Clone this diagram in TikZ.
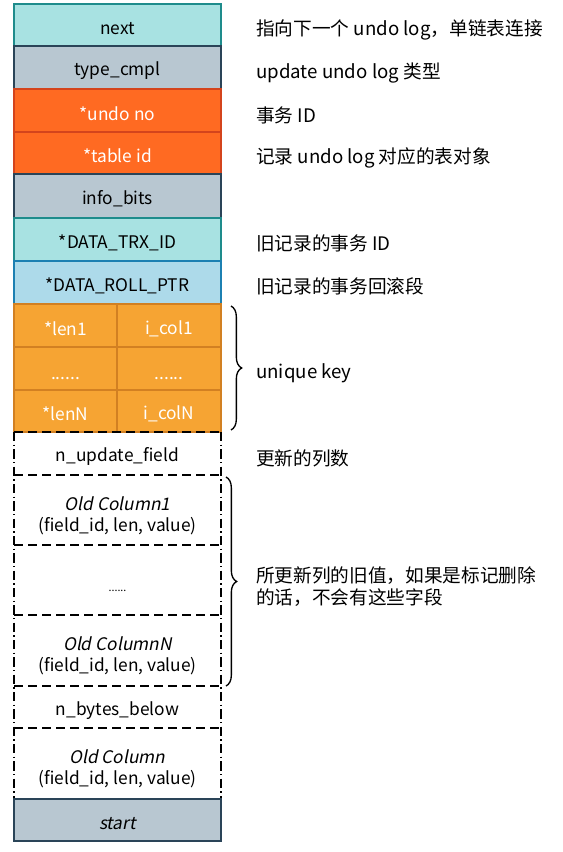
\documentclass[tikz,border=0pt]{standalone}
\usepackage{fontspec}
\setmainfont{Noto Sans CJK SC}
\newfontfamily\slantfont[FakeSlant=0.2]{Noto Sans CJK SC}
\usetikzlibrary{decorations.pathreplacing}
\definecolor{cyanF}{HTML}{A8E2E2}
\definecolor{cyanD}{HTML}{1E8C8C}
\definecolor{greyF}{HTML}{B8C7D1}
\definecolor{greyD}{HTML}{2A4458}
\definecolor{redF}{HTML}{FF6A22}
\definecolor{redD}{HTML}{D4441C}
\definecolor{blueF}{HTML}{ADDAEA}
\definecolor{blueD}{HTML}{1C80B2}
\definecolor{orF}{HTML}{F6A433}
\definecolor{orD}{HTML}{D28022}
\begin{document}
\begin{tikzpicture}[x=0.75pt,y=-0.75pt,
  font=\fontsize{13}{15}\selectfont,
  box/.style={draw, line width=1.2pt, minimum width=155.25pt, inner sep=0pt,
    outer sep=0pt, anchor=north west},
  lbl/.style={inner sep=0pt, yshift=-2.4pt, align=center, font=\fontsize{13}{15.5}\selectfont},
  lbltwo/.style={lbl, yshift=-1.8pt},
  wlbl/.style={lbl, text=white},
  dotlbl/.style={wlbl, yshift=-5pt},
  open/.style={inner sep=0pt, outer sep=0pt, anchor=north west, minimum width=155.25pt},
  note/.style={anchor=west, inner sep=0pt, align=left, yshift=-2pt,
    font=\fontsize{14}{16.5}\selectfont},
  dashline/.style={line width=1.1pt, dash pattern=on 7pt off 3.5pt},
  dotline/.style={line width=1.1pt, dash pattern=on 7pt off 2.5pt on 1pt off 2.5pt},
  bracestyle/.style={line width=1pt, decorate, decoration={brace, amplitude=8pt, raise=0pt}}]
\useasboundingbox (0,0) rectangle (563,852);

\node[box, fill=cyanF, draw=cyanD, minimum height=42*0.75pt, label={[lbl]center:next}] (next) at (14,4) {};
\node[box, fill=greyF, draw=greyD, minimum height=43*0.75pt, label={[lbl]center:type\_cmpl}] (type) at (14,46) {};
\node[box, fill=redF, draw=redD, minimum height=43*0.75pt, label={[wlbl]center:*undo no}] (undono) at (14,89) {};
\node[box, fill=redF, draw=redD, minimum height=42*0.75pt, label={[wlbl]center:*table id}] (tableid) at (14,132) {};
\node[box, fill=greyF, draw=greyD, minimum height=44*0.75pt, label={[lbl]center:info\_bits}] (info) at (14,174) {};
\node[box, fill=cyanF, draw=cyanD, minimum height=43*0.75pt, label={[lbl]center:*DATA\_TRX\_ID}] (trx) at (14,218) {};
\node[box, fill=blueF, draw=blueD, minimum height=43*0.75pt, label={[lbl]center:*DATA\_ROLL\_PTR}] (roll) at (14,261) {};

\node[box, fill=orF, draw=orD, minimum width=77.25pt, minimum height=43*0.75pt, label={[wlbl]center:*len1}] (len1) at (14,304) {};
\node[box, fill=orF, draw=orD, minimum width=78pt, minimum height=43*0.75pt, label={[wlbl]center:i\_col1}] (col1) at (117,304) {};
\node[box, fill=orF, draw=orD, minimum width=77.25pt, minimum height=43*0.75pt, label={[dotlbl]center:......}] (lend) at (14,347) {};
\node[box, fill=orF, draw=orD, minimum width=78pt, minimum height=43*0.75pt, label={[dotlbl]center:......}] (cold) at (117,347) {};
\node[box, fill=orF, draw=orD, minimum width=77.25pt, minimum height=42*0.75pt, label={[wlbl]center:*lenN}] (lenN) at (14,390) {};
\node[box, fill=orF, draw=orD, minimum width=78pt, minimum height=42*0.75pt, label={[wlbl]center:i\_colN}] (colN) at (117,390) {};

\node[open, minimum height=43*0.75pt, label={[lbl]center:n\_update\_field}] (nuf) at (14,432) {};
\node[open, minimum height=70*0.75pt, label={[lbltwo]center:{\slantfont Old Column1}\\(field\_id, len, value)}] (oc1) at (14,475) {};
\node[open, minimum height=70*0.75pt, label={[lbl, yshift=-6pt, font=\fontsize{8}{10}\selectfont]center:......}] (ocd) at (14,545) {};
\node[open, minimum height=71*0.75pt, label={[lbltwo]center:{\slantfont Old ColumnN}\\(field\_id, len, value)}] (ocN) at (14,615) {};
\node[open, minimum height=42*0.75pt, label={[lbl]center:n\_bytes\_below}] (nbb) at (14,686) {};
\node[open, minimum height=71*0.75pt, label={[lbltwo]center:{\slantfont Old Column}\\(field\_id, len, value)}] (oc) at (14,728) {};

\draw[dotline] (nuf.north west) -- (oc.south west);
\draw[dotline] (nuf.north east) -- (oc.south east);
\draw[dashline] (nuf.north west) -- (nuf.north east);
\draw[dashline] (nuf.south west) -- (nuf.south east);
\draw[dashline] (oc1.south west) -- (oc1.south east);
\draw[dashline] (ocd.south west) -- (ocd.south east);
\draw[dashline] (ocN.south west) -- (ocN.south east);
\draw[dashline] (nbb.south west) -- (nbb.south east);

\node[box, fill=greyF, draw=greyD, minimum height=42*0.75pt, label={[lbl]center:\slantfont start}] (start) at (14,799) {};

\node[note] (t1) at (256,27) {指向下一个 undo log，单链表连接};
\node[note] (t2) at (256,70) {update undo log 类型};
\node[note] (t3) at (256,113) {事务 ID};
\node[note] (t4) at (256,155) {记录 undo log 对应的表对象};
\node[note] (t5) at (256,241) {旧记录的事务 ID};
\node[note] (t6) at (256,284) {旧记录的事务回滚段};
\node[note] (t7) at (256,371) {unique key};
\node[note] (t8) at (256,456) {更新的列数};
\node[note] (t9) at (256,584) {所更新列的旧值，如果是标记删除\\的话，不会有这些字段};

\coordinate (b1a) at (231,306);
\coordinate (b1b) at (231,430);
\coordinate (b2a) at (226,477);
\coordinate (b2b) at (226,686);
\draw[bracestyle] (b1a) -- (b1b);
\draw[bracestyle] (b2a) -- (b2b);
\end{tikzpicture}
\end{document}
